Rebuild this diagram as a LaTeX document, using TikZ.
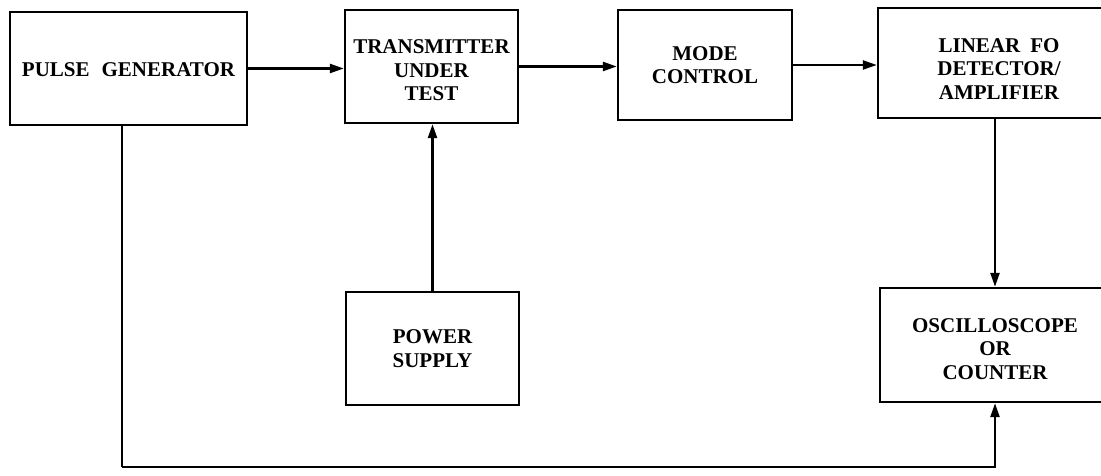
\documentclass[tikz,border=0pt]{standalone}
\usepackage{fontspec}
\setmainfont{Liberation Serif}
\usetikzlibrary{arrows.meta}
\begin{document}
\begin{tikzpicture}[x=1pt,y=-1pt, line width=2.4pt,
  blk/.style={draw, line width=2.4pt, rectangle, inner sep=0pt},
  txt/.style={inner sep=0pt, align=center, font=\bfseries\fontsize{21}{23.5}\selectfont},
  conn/.style={line width=2.4pt, -{Triangle[length=14pt,width=9pt]}},
  wire/.style={line width=2.4pt}]
\clip (0,0) rectangle (1101,476);
\node[blk, minimum width=237pt, minimum height=113pt] (pg) at (128.5,68.5) {};
\node[blk, minimum width=173pt, minimum height=113pt] (tx) at (431.5,66.5) {};
\node[blk, minimum width=174pt, minimum height=110pt] (mc) at (705,65) {};
\node[blk, minimum width=242pt, minimum height=110pt] (lin) at (999,63) {};
\node[blk, minimum width=173pt, minimum height=113pt] (ps) at (432.5,348.5) {};
\node[blk, minimum width=230pt, minimum height=114pt] (osc) at (995,345) {};
\node[txt] (pgt) at ([yshift=-1pt]pg.center) {PULSE\hspace{12pt}GENERATOR};
\node[txt] (txt1) at ([yshift=-4pt]tx.center) {TRANSMITTER\\UNDER\\TEST};
\node[txt] (mct) at (mc.center) {MODE\\CONTROL};
\node[txt] (lint) at ([yshift=-6pt]lin.center) {LINEAR\hspace{10pt}FO\\DETECTOR/\\AMPLIFIER};
\node[txt] (pst) at (ps.center) {POWER\\SUPPLY};
\node[txt] (osct) at ([yshift=-4pt]osc.center) {OSCILLOSCOPE\\OR\\COUNTER};
\coordinate (bl) at (122,467);
\draw[conn] (pg.east) -- (pg.east -| tx.west);
\draw[conn] (tx.east) -- (tx.east -| mc.west);
\draw[conn] (mc.east) -- (mc.east -| lin.west);
\draw[conn] (osc.north |- lin.south) -- (osc.north);
\draw[conn] (ps.north) -- (ps.north |- tx.south);
\draw[wire] (pg.south -| bl) -- (bl);
\draw[conn] (bl) -| (osc.south);
\end{tikzpicture}
\end{document}
